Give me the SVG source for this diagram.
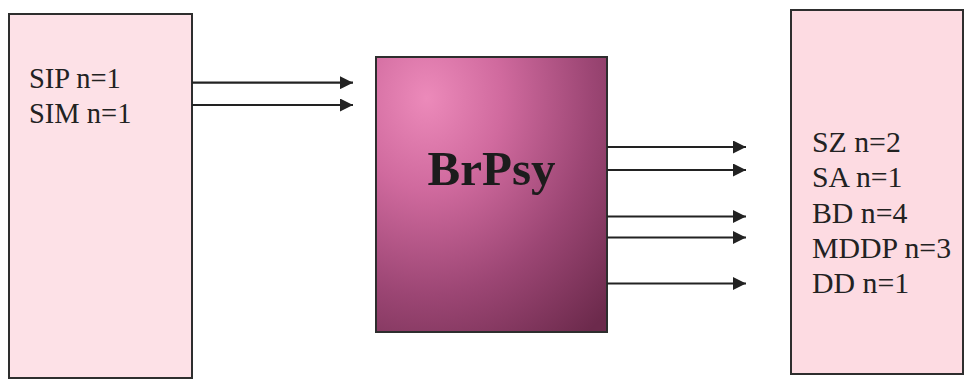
<svg xmlns="http://www.w3.org/2000/svg" width="968" height="380" viewBox="0 0 968 380">
  <style>
    .box { stroke: #2e2e2e; stroke-width: 2; }
    .lbl { font-family: "Liberation Serif", "Times New Roman", serif; fill: #222; }
    .lft { font-size: 28.5px; }
    .rgt { font-size: 29.8px; }
    .title { font-family: "Liberation Serif", "Times New Roman", serif; font-size: 49px; font-weight: bold; fill: #1c1c1c; }
    .arrow { stroke: #222; stroke-width: 2.2; fill: none; marker-end: url(#ah); }
  </style>
  <defs>
    <marker id="ah" viewBox="0 0 10 10" refX="10" refY="5" markerUnits="userSpaceOnUse" markerWidth="17" markerHeight="13" orient="auto">
      <path d="M0,0 L10,5 L0,10 Z" fill="#222"/>
    </marker>
    <radialGradient id="mid" cx="0.22" cy="0.15" r="1.1" fx="0.22" fy="0.15">
      <stop offset="0" stop-color="#ec8aba"/>
      <stop offset="0.3" stop-color="#d06a9e"/>
      <stop offset="0.65" stop-color="#9c4674"/>
      <stop offset="1" stop-color="#6c2a4c"/>
    </radialGradient>
  </defs>
  <rect width="968" height="380" fill="#ffffff"/>

  <g id="node-inputs">
    <rect class="box" x="9" y="14" width="183" height="364" fill="#fde1e7"/>
    <text class="lbl lft" x="29" y="88">SIP n=1</text>
    <text class="lbl lft" x="29" y="122.5">SIM n=1</text>
  </g>

  <g id="node-brpsy">
    <rect class="box" x="376" y="57" width="231" height="275" fill="url(#mid)"/>
    <text class="title" x="491.5" y="185" text-anchor="middle">BrPsy</text>
  </g>

  <g id="node-outputs">
    <rect class="box" x="791" y="10" width="172" height="364" fill="#fddbe2"/>
    <text class="lbl rgt" x="812" y="152">SZ n=2</text>
    <text class="lbl rgt" x="812" y="187">SA n=1</text>
    <text class="lbl rgt" x="812" y="222.5">BD n=4</text>
    <text class="lbl rgt" x="812" y="258">MDDP n=3</text>
    <text class="lbl rgt" x="812" y="293">DD n=1</text>
  </g>

  <g id="connectors">
    <line class="arrow" x1="192" y1="82.7" x2="353" y2="82.7"/>
    <line class="arrow" x1="192" y1="105" x2="353" y2="105"/>
    <line class="arrow" x1="607" y1="147" x2="746" y2="147"/>
    <line class="arrow" x1="607" y1="170" x2="746" y2="170"/>
    <line class="arrow" x1="607" y1="216.5" x2="746" y2="216.5"/>
    <line class="arrow" x1="607" y1="237.5" x2="746" y2="237.5"/>
    <line class="arrow" x1="607" y1="283.5" x2="746" y2="283.5"/>
  </g>
</svg>
